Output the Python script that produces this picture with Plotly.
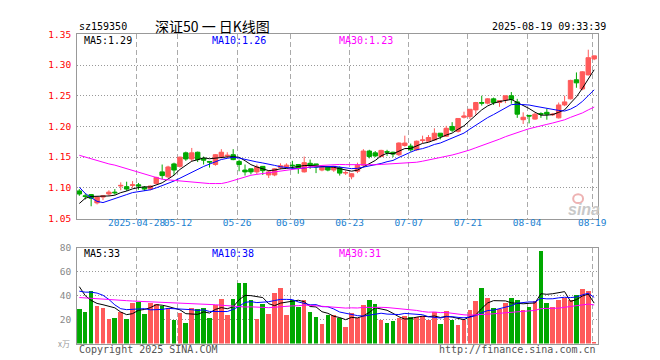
import numpy as np
import pandas as pd
import plotly.graph_objects as go

# ---------------- data ----------------
holidays = ["2025-05-01", "2025-05-02", "2025-05-05", "2025-06-02"]
days = pd.bdate_range("2025-04-14", "2025-08-19")
days = days[~days.isin(pd.to_datetime(holidays))]

opens = [1.095, 1.087, 1.089, 1.0755, 1.085, 1.090, 1.093, 1.103, 1.102, 1.104,
         1.105, 1.101, 1.098, 1.107, 1.126, 1.118, 1.139, 1.135, 1.157, 1.147,
         1.158, 1.148, 1.143, 1.138, 1.150, 1.152, 1.154, 1.143, 1.129, 1.131,
         1.126, 1.135, 1.121, 1.121, 1.133, 1.134, 1.137, 1.138, 1.126, 1.140,
         1.139, 1.129, 1.134, 1.129, 1.133, 1.124, 1.118, 1.127, 1.137, 1.160,
         1.157, 1.151, 1.159, 1.158, 1.154, 1.169, 1.168, 1.162, 1.177, 1.176,
         1.178, 1.189, 1.184, 1.200, 1.192, 1.215, 1.216, 1.227, 1.239, 1.238,
         1.245, 1.239, 1.243, 1.250, 1.240, 1.211, 1.218, 1.212, 1.221, 1.223,
         1.219, 1.214, 1.235, 1.245, 1.276, 1.261, 1.284, 1.310]
highs = [1.098, 1.091, 1.090, 1.086, 1.088, 1.096, 1.098, 1.109, 1.110, 1.111,
         1.108, 1.103, 1.104, 1.118, 1.138, 1.136, 1.141, 1.151, 1.159, 1.165,
         1.159, 1.151, 1.143, 1.155, 1.163, 1.158, 1.163, 1.146, 1.138, 1.131,
         1.138, 1.135, 1.129, 1.132, 1.140, 1.140, 1.144, 1.138, 1.151, 1.146,
         1.139, 1.135, 1.135, 1.135, 1.135, 1.128, 1.124, 1.141, 1.163, 1.162,
         1.160, 1.162, 1.162, 1.159, 1.174, 1.185, 1.172, 1.177, 1.185, 1.186,
         1.197, 1.189, 1.201, 1.207, 1.213, 1.224, 1.228, 1.240, 1.250, 1.246,
         1.247, 1.242, 1.250, 1.256, 1.245, 1.223, 1.218, 1.222, 1.223, 1.229,
         1.222, 1.239, 1.250, 1.276, 1.288, 1.290, 1.325, 1.315]
lows = [1.087, 1.081, 1.070, 1.073, 1.080, 1.087, 1.089, 1.096, 1.095, 1.100,
        1.097, 1.095, 1.096, 1.106, 1.114, 1.116, 1.121, 1.133, 1.144, 1.143,
        1.142, 1.138, 1.133, 1.136, 1.148, 1.149, 1.145, 1.127, 1.120, 1.122,
        1.122, 1.121, 1.116, 1.119, 1.130, 1.132, 1.131, 1.123, 1.125, 1.131,
        1.124, 1.127, 1.127, 1.126, 1.120, 1.121, 1.114, 1.124, 1.135, 1.148,
        1.150, 1.150, 1.152, 1.150, 1.152, 1.167, 1.159, 1.160, 1.173, 1.175,
        1.177, 1.179, 1.183, 1.191, 1.190, 1.213, 1.212, 1.219, 1.234, 1.236,
        1.235, 1.232, 1.238, 1.237, 1.214, 1.204, 1.205, 1.211, 1.214, 1.211,
        1.217, 1.213, 1.233, 1.244, 1.263, 1.259, 1.283, 1.308]
closes = [1.090, 1.086, 1.083, 1.085, 1.087, 1.093, 1.092, 1.104, 1.098, 1.105,
          1.103, 1.098, 1.103, 1.117, 1.120, 1.134, 1.129, 1.150, 1.147, 1.157,
          1.146, 1.145, 1.142, 1.154, 1.158, 1.153, 1.146, 1.138, 1.126, 1.126,
          1.134, 1.128, 1.126, 1.131, 1.136, 1.137, 1.136, 1.132, 1.141, 1.136,
          1.134, 1.134, 1.129, 1.135, 1.124, 1.125, 1.123, 1.137, 1.160, 1.151,
          1.152, 1.161, 1.158, 1.155, 1.173, 1.173, 1.162, 1.176, 1.178, 1.182,
          1.189, 1.184, 1.197, 1.194, 1.213, 1.217, 1.228, 1.239, 1.238, 1.245,
          1.239, 1.242, 1.250, 1.244, 1.220, 1.215, 1.217, 1.220, 1.220, 1.220,
          1.220, 1.235, 1.240, 1.275, 1.271, 1.289, 1.312, 1.315]
volumes = [29.1, 26.7, 44.3, 32.0, 29.9, 21.1, 21.9, 26.7, 21.1, 34.1,
           35.2, 25.1, 34.4, 33.3, 32.0, 29.9, 19.7, 25.9, 17.3, 29.9,
           29.1, 29.9, 21.3, 32.5, 37.3, 24.3, 37.9, 50.7, 50.7, 36.3,
           21.1, 33.1, 25.1, 42.7, 46.7, 24.3, 36.3, 30.9, 36.3, 26.7,
           22.7, 16.3, 24.3, 24.0, 21.3, 13.9, 25.9, 21.9, 32.3, 36.3,
           33.1, 20.3, 17.1, 19.5, 21.9, 23.5, 22.7, 22.7, 23.5, 19.7,
           26.7, 16.3, 27.5, 20.3, 15.5, 20.3, 28.3, 35.5, 46.7, 38.7,
           29.9, 28.8, 33.9, 38.7, 36.3, 28.3, 30.7, 35.5, 77.1, 33.9,
           30.7, 36.3, 38.7, 36.3, 41.1, 45.9, 44.3, 1.1]

# moving-average values at the left edge (they depend on days before the window)
ma5_head = [1.0745, 1.083, 1.086, 1.086]
ma10_head = [1.101, 1.091, 1.084, 1.078, 1.076, 1.079, 1.082, 1.086, 1.089]
ma30_head = [1.153, 1.150, 1.147, 1.145, 1.142, 1.139, 1.137, 1.134, 1.131, 1.128,
             1.126, 1.122, 1.119, 1.116, 1.114, 1.113, 1.112, 1.111, 1.110, 1.109,
             1.108, 1.107, 1.107, 1.107, 1.107, 1.109, 1.112, 1.115, 1.118]
vma5_head = [47.5, 40.0, 36.0, 33.5]
vma10_head = [43.7, 42.9, 42.9, 42.1, 40.3, 36.8, 32.3, 29.1, 28.3]
vma30_head = [38.4, 38.0, 37.7, 37.4, 37.1, 36.8, 36.5, 36.2, 35.8, 35.5,
              35.3, 35.1, 34.9, 34.7, 34.5, 34.3, 34.1, 34.0, 33.9, 33.7,
              33.6, 33.2, 32.8, 32.4, 32.0, 31.6, 31.2, 30.8, 30.5]

tick_dates = ["2025-04-28", "2025-05-12", "2025-05-26", "2025-06-09", "2025-06-23",
              "2025-07-07", "2025-07-21", "2025-08-04", "2025-08-19"]
tick_labels = ["2025-04-28", "05-12", "05-26", "06-09", "06-23",
               "07-07", "07-21", "08-04", "08-19"]
price_ticks = [1.05, 1.10, 1.15, 1.20, 1.25, 1.30, 1.35]
vol_ticks = [20, 40, 60, 80]
price_legend = ["MA5:1.29", "MA10:1.26", "MA30:1.23"]
vol_legend = ["MA5:33", "MA10:38", "MA30:31"]

# ---------------- styling ----------------
W, H = 660, 360
RED, GREEN = "#ff5a5a", "#00a800"
MA_COLORS = ["#000000", "#0000ff", "#ff00ff"]
MONO = "DejaVu Sans Mono"
L, R = 70, 598
P_TOP, P_BOT = 21, 211
V_TOP, V_BOT = 241, 340


def px(x, y):
    return x / W, 1 - y / H


def ma(vals, n, head):
    s = pd.Series(vals, dtype=float).rolling(n).mean().to_numpy()
    s[: n - 1] = head
    return s


idx = np.arange(len(closes))
x_lo = -0.383
x_hi = x_lo + (R - L) / 6.0
date_strs = [d.strftime("%Y-%m-%d") for d in days]
tick_pos = [date_strs.index(d) - 0.33 if d in date_strs else np.nan for d in tick_dates]
up = [c > o for o, c in zip(opens, closes)]
bar_colors = [RED if u else GREEN for u in up]

fig = go.Figure()
fig.add_trace(go.Candlestick(
    x=idx, open=opens, high=highs, low=lows, close=closes,
    increasing=dict(line=dict(color=RED, width=1), fillcolor=RED),
    decreasing=dict(line=dict(color=GREEN, width=1), fillcolor=GREEN),
    whiskerwidth=0, xaxis="x", yaxis="y", hoverinfo="skip", showlegend=False))

for k, (nn, head) in enumerate([(5, ma5_head), (10, ma10_head), (30, ma30_head)]):
    fig.add_trace(go.Scatter(x=idx, y=ma(closes, nn, head), mode="lines",
                             line=dict(color=MA_COLORS[k], width=1),
                             xaxis="x", yaxis="y", hoverinfo="skip", showlegend=False))

fig.add_trace(go.Bar(x=idx, y=volumes, marker=dict(color=bar_colors, line=dict(width=0)),
                     width=0.78, xaxis="x2", yaxis="y2", hoverinfo="skip", showlegend=False))
for k, (nn, head) in enumerate([(5, vma5_head), (10, vma10_head), (30, vma30_head)]):
    fig.add_trace(go.Scatter(x=idx, y=ma(volumes, nn, head), mode="lines",
                             line=dict(color=MA_COLORS[k], width=1),
                             xaxis="x2", yaxis="y2", hoverinfo="skip", showlegend=False))

xdom = [L / W, R / W]
common_x = dict(domain=xdom, range=[x_lo, x_hi], tickvals=tick_pos, ticktext=tick_labels,
                showgrid=True, gridcolor="#aaaaaa", griddash="5px,3px", gridwidth=1,
                showline=True, mirror=True, linecolor="#999999", linewidth=1,
                zeroline=False, ticks="", fixedrange=True, tickangle=0)
fig.update_layout(
    width=W, height=H, margin=dict(l=0, r=0, t=0, b=0),
    paper_bgcolor="white", plot_bgcolor="white",
    font=dict(family=MONO, size=10, color="#000"),
    bargap=0, boxgap=0.25, boxgroupgap=0,
    xaxis=dict(**common_x, anchor="y", rangeslider=dict(visible=False),
               tickfont=dict(family=MONO, size=9.5, color="#1a7fd0"),
               ticklabelstandoff=-5),
    yaxis=dict(domain=[1 - P_BOT / H, 1 - P_TOP / H], range=[1.05, 1.35],
               tickvals=price_ticks, ticktext=[f"{v:.2f}" for v in price_ticks],
               tickfont=dict(family=MONO, size=9.5, color="#ff0000"),
               showgrid=True, gridcolor="#999999", griddash="1px,2px", gridwidth=1,
               showline=True, mirror=True, linecolor="#999999", linewidth=1,
               zeroline=False, ticks="", anchor="x", fixedrange=True,
               ticklabelstandoff=3),
    xaxis2=dict(**common_x, anchor="y2", showticklabels=False),
    yaxis2=dict(domain=[1 - V_BOT / H, 1 - V_TOP / H], range=[0, 80],
                tickvals=vol_ticks, ticktext=[str(v) for v in vol_ticks],
                tickfont=dict(family=MONO, size=9.5, color="#888888"),
                showgrid=True, gridcolor="#999999", griddash="1px,2px", gridwidth=1,
                showline=True, mirror=True, linecolor="#999999", linewidth=1,
                zeroline=False, ticks="", anchor="x2", fixedrange=True,
                ticklabelstandoff=3),
)

ann = []


def text(x, y, s, color="#000", size=10, anchor="left", family=MONO, **kw):
    ax, ay = px(x, y)
    ann.append(dict(x=ax, y=ay, xref="paper", yref="paper", text=s, showarrow=False,
                    xanchor=anchor, yanchor="middle",
                    font=dict(family=family, size=size, color=color), **kw))


text(70, 13, "sz159350", size=10)
text(207, 12, "深证50 一 日K线图", size=14, anchor="center", family="Noto Sans CJK SC")
text(608, 13, "2025-08-19 09:33:39", size=10, anchor="right")
for s, x0, c in zip(price_legend, [75, 205, 334], MA_COLORS):
    text(x0, 27, s, color=c)
for s, x0, c in zip(vol_legend, [75, 205, 334], MA_COLORS):
    text(x0, 247, s, color=c)
text(65, 340, "x万", color="#999999", size=8, anchor="right", family="Noto Sans CJK SC")
text(70, 346, "Copyright 2025 SINA.COM", color="#555555")
text(598, 346, "http://finance.sina.com.cn", color="#555555", anchor="right")
text(584, 202, "<b><i>sina</i></b>", color="#c8c8c8", size=16, anchor="center",
     family="Liberation Sans")
fig.update_layout(annotations=ann)
fig.add_shape(type="circle", xref="paper", yref="paper",
              x0=573 / W, x1=583 / W, y0=1 - 195 / H, y1=1 - 186 / H,
              line=dict(color="#eaa0a0", width=2), opacity=0.8)

fig.write_html("out.html")
